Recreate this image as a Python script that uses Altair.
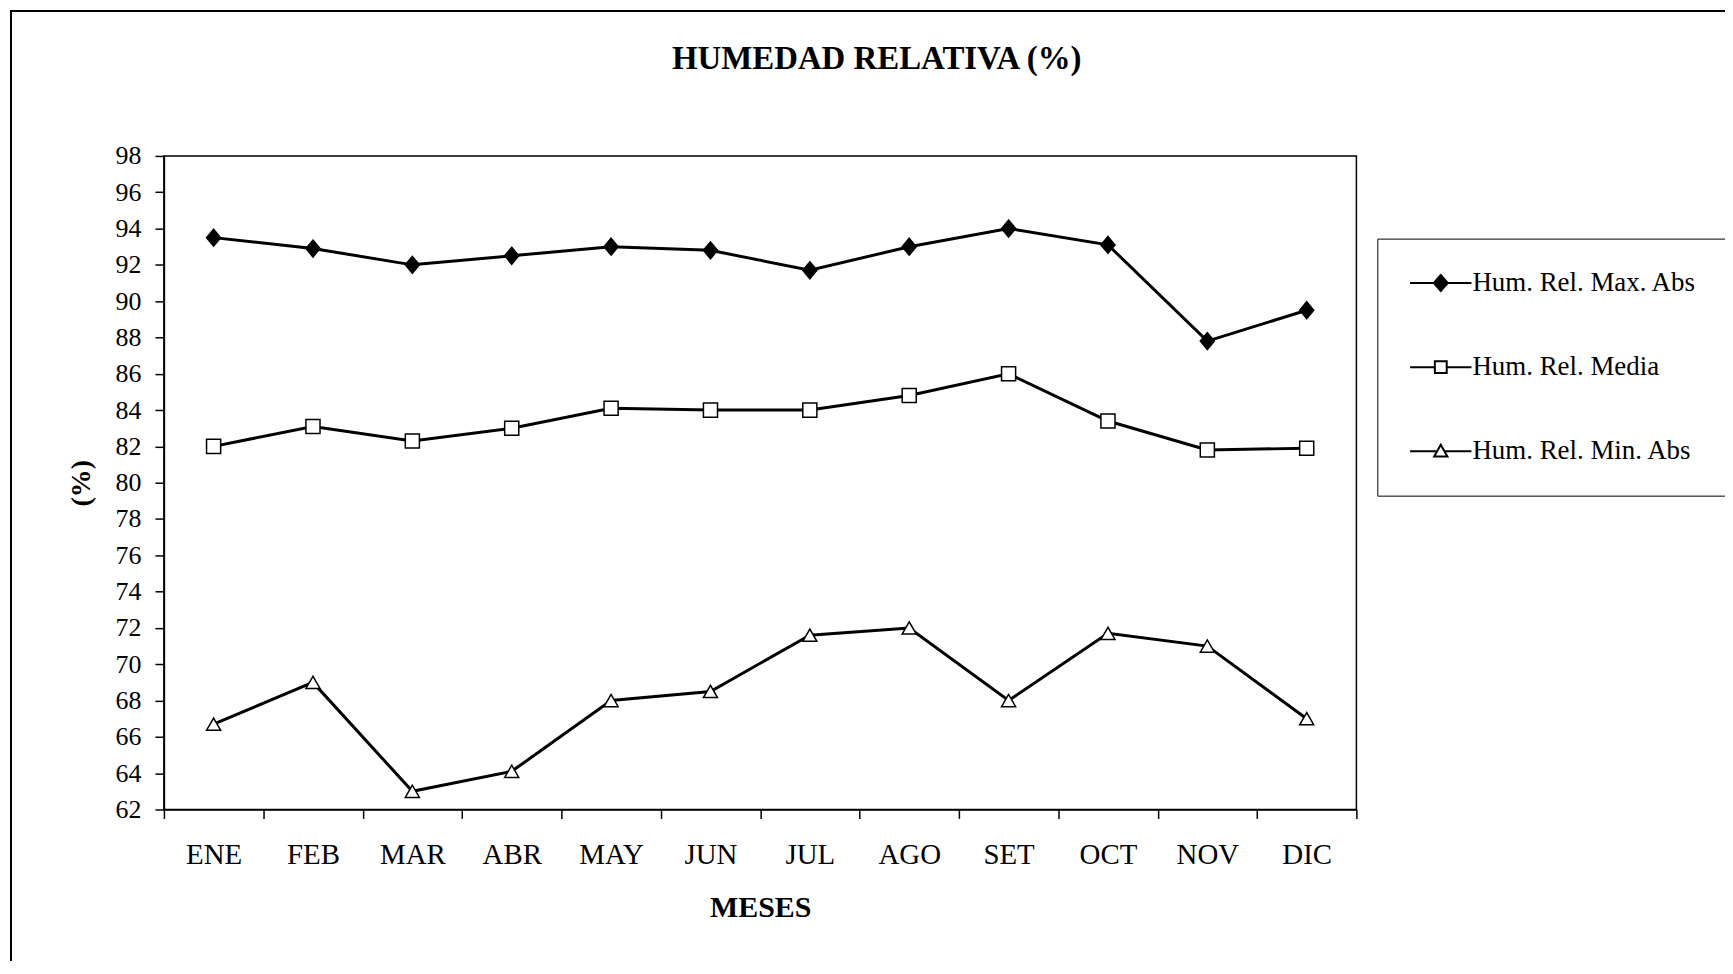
import altair as alt
import pandas as pd

meses = ["ENE", "FEB", "MAR", "ABR", "MAY", "JUN", "JUL", "AGO", "SET", "OCT", "NOV", "DIC"]
series = ["Hum. Rel. Max. Abs", "Hum. Rel. Media", "Hum. Rel. Min. Abs"]
max_abs = [93.5, 92.9, 92.0, 92.5, 93.0, 92.8, 91.7, 93.0, 94.0, 93.1, 87.8, 89.5]
media = [82.0, 83.1, 82.3, 83.0, 84.1, 84.0, 84.0, 84.8, 86.0, 83.4, 81.8, 81.9]
min_abs = [66.7, 69.0, 63.0, 64.1, 68.0, 68.5, 71.6, 72.0, 68.0, 71.7, 71.0, 67.0]
y_ticks = list(range(62, 99, 2))

rows = []
for name, vals in zip(series, [max_abs, media, min_abs]):
    for m, v in zip(meses, vals):
        rows.append({"mes": m, "serie": name, "valor": v})
df = pd.DataFrame(rows)

FONT = "Liberation Serif"
W, H = 1197, 656

x_enc = alt.X(
    "mes:N", sort=meses, bandPosition=0.5,
    scale=alt.Scale(type="band", paddingInner=0, paddingOuter=0),
    axis=alt.Axis(title="MESES", labelAngle=0, tickBand="extent", tickSize=9,
                  labelPadding=22, titlePadding=23, labelFontSize=29,
                  titleFontSize=30, titleFontWeight="bold", grid=False,
                  labelFont=FONT, titleFont=FONT),
)
y_enc = alt.Y(
    "valor:Q",
    scale=alt.Scale(domain=[62, 98], nice=False, zero=False),
    axis=alt.Axis(title="(%)", values=y_ticks, tickSize=9, labelPadding=14,
                  titlePadding=20, labelFontSize=26, titleFontSize=28,
                  titleFontWeight="bold", grid=False,
                  labelFont=FONT, titleFont=FONT),
)

marker_shapes = ["M0,-1.2L1,0L0,1.2L-1,0Z", "square", "triangle-up"]
legend_shapes = [
    "M-4.4,0H-1M1,0H4.4M0,-1.15L1,0L0,1.15L-1,0Z",
    "M-4.4,0H-0.85M0.85,0H4.4M-0.85,-0.85H0.85V0.85H-0.85Z",
    "M-4.4,0H-0.53M0.53,0H4.4M0,-0.95L0.95,0.75L-0.95,0.75Z",
]
fills = ["black", "white", "white"]

frame = alt.Chart(pd.DataFrame({"k": [0]})).mark_rect(
    fill=None, stroke="black", strokeWidth=2
).encode(
    x=alt.value(-153.5), x2=alt.value(W + 400),
    y=alt.value(-145.5), y2=alt.value(H + 300),
)

lines = alt.Chart(df).mark_line(color="black", strokeWidth=3).encode(
    x=x_enc, y=y_enc, detail="serie:N"
)

points = alt.Chart(df).mark_point(
    filled=True, stroke="black", strokeWidth=1.5, size=200, opacity=1
).encode(
    x=x_enc, y=y_enc,
    shape=alt.Shape("serie:N", scale=alt.Scale(domain=series, range=marker_shapes), legend=None),
    fill=alt.Fill("serie:N", scale=alt.Scale(domain=series, range=fills), legend=None),
)

leg = alt.Legend(
    title=None, orient="none", legendX=1218, legendY=83, padding=31,
    strokeColor="black", fillColor="white", symbolSize=196,
    symbolStrokeWidth=2, symbolOffset=19.2,
    labelOffset=18.3, rowPadding=56.5, labelFont=FONT, labelFontSize=27,
    labelColor="black", labelLimit=0,
)

legend_layer = alt.Chart(df).transform_filter("false").mark_point(
    filled=False, stroke="black", strokeWidth=2, size=196, opacity=1
).encode(
    x=x_enc, y=y_enc,
    shape=alt.Shape("serie:N", scale=alt.Scale(domain=series, range=legend_shapes), legend=leg),
    fill=alt.Fill("serie:N", scale=alt.Scale(domain=series, range=fills), legend=leg),
)

chart = alt.layer(frame, lines, points, legend_layer).resolve_scale(
    shape="independent", fill="independent"
).properties(
    width=W, height=H,
    background="white",
    title=alt.TitleParams(
        text="HUMEDAD RELATIVA (%)", font=FONT, fontSize=33, fontWeight="bold",
        anchor="middle", dx=117, offset=-92, baseline="alphabetic", color="black",
    ),
    autosize=alt.AutoSizeParams(type="none"),
    padding={"left": 156.5, "top": 146.7, "right": 370, "bottom": 150},
).configure_view(
    stroke="black", strokeWidth=1.5
).configure_axis(
    labelFont=FONT, titleFont=FONT, labelColor="black", titleColor="black",
    domainColor="black", tickColor="black", domainWidth=1.5, tickWidth=1.5,
    grid=False,
)

chart.save("out.html", embed_options={"renderer": "svg", "actions": False})
